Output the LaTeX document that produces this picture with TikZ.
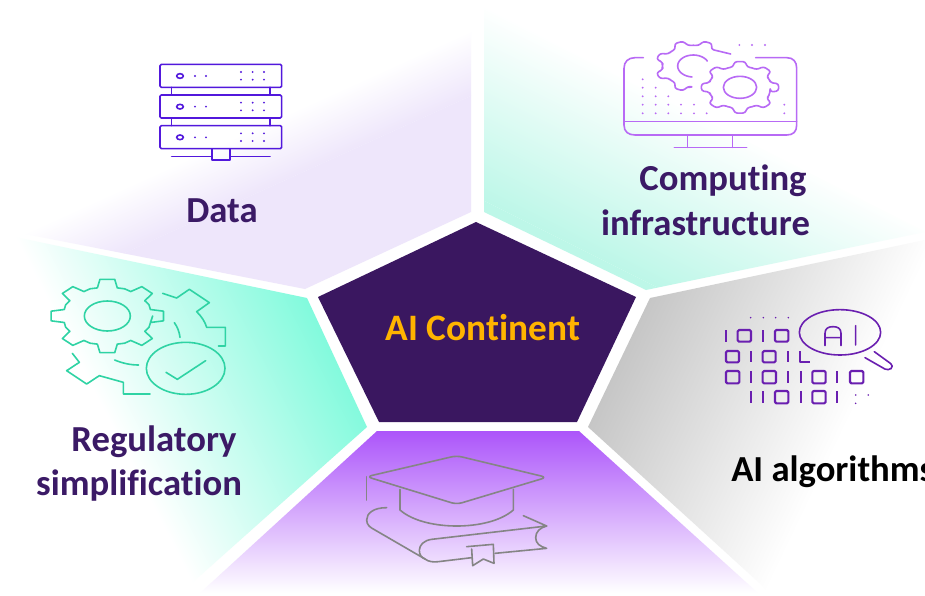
\documentclass[tikz,border=0pt]{standalone}
\usepackage{fontspec}
\setmainfont[Ligatures=NoCommon]{Carlito}
\definecolor{deep}{HTML}{3A1760}
\definecolor{gold}{HTML}{FFB400}
\definecolor{txt}{HTML}{3B1A66}
\definecolor{indigoic}{HTML}{5218DC}
\definecolor{lilacic}{HTML}{B86AF5}
\definecolor{purpic}{HTML}{6A1FB0}
\definecolor{mintic}{HTML}{2FD3A4}
\definecolor{grayic}{HTML}{858585}
\definecolor{lav}{HTML}{EEE6FB}
\definecolor{mintsoft}{HTML}{BDF7E8}
\definecolor{mintstrong}{HTML}{80FADC}
\definecolor{graysoft}{HTML}{C4C4C4}
\definecolor{violettop}{HTML}{AC55FA}
\definecolor{violetmid}{HTML}{DCBFFB}
\tikzset{
 lab/.style={font=\bfseries\fontsize{27.5}{32}\selectfont,text=txt,inner sep=0pt,anchor=base},
 ic/.style={line width=1.2pt,line join=round,line cap=round},
 zoomed/.style={x=.25pt,y=-.25pt},
 dotmark/.style={radius=3.2},
}
% #1 polygon, #2 pivot, #3 angle, #4 band, #5 far colour
\newcommand{\bandwedge}[5]{%
 \begin{scope}
  \clip #1;
  \begin{scope}[transform canvas={shift={#2},rotate=#3}]
   \fill[#5] (-1500,#4) rectangle (1500,1600);
   \shade[top color=white,bottom color=#5] (-1500,0) rectangle (1500,#4);
  \end{scope}
 \end{scope}}
\newcommand{\gearpath}[8]{%
 \foreach \k in {#8}{
  -- ({#1+#3*#5*cos(\k*45+#7-13)},{#2-#4*#5*sin(\k*45+#7-13)})
  -- ({#1+#3*cos(\k*45+#7-#6)},{#2-#4*sin(\k*45+#7-#6)})
  -- ({#1+#3*cos(\k*45+#7+#6)},{#2-#4*sin(\k*45+#7+#6)})
  -- ({#1+#3*#5*cos(\k*45+#7+13)},{#2-#4*#5*sin(\k*45+#7+13)})
  -- ({#1+#3*#5*1.02*cos(\k*45+#7+22.5)},{#2-#4*#5*1.02*sin(\k*45+#7+22.5)})
 }}
\newcommand{\zbox}[4]{\draw[rounded corners=1pt] (#1,#2) rectangle (#3,#4);}
\newcommand{\zbar}[3]{\draw (#1,#2) -- (#1,#3);}
\begin{document}
\begin{tikzpicture}[x=.75pt,y=-.75pt]
\useasboundingbox (0,0) rectangle (925,596);
\fill[white] (0,0) rectangle (925,596);
\begin{scope}
 \clip (925,0) rectangle (0,596);
 % wedges
 \bandwedge{(471,28) -- (471,212) -- (305,289) -- (15,232) -- cycle}{(471,30)}{24.4}{60}{lav}
 \bandwedge{(484,8) -- (484,212) -- (646,290) -- (925,232) -- cycle}{(484,5)}{-26.6}{175}{mintsoft}
 \bandwedge{(650,298) -- (925,240) -- (925,262) -- (767,590) -- (588,427) -- cycle}{(767,590)}{244.4}{240}{graysoft}
 \bandwedge{(15,237) -- (307,298) -- (367,427) -- (192,583) -- cycle}{(192,583)}{117.1}{235}{mintstrong}
 \shade[top color=violettop,middle color=violetmid,bottom color=white] (377,431) -- (579,431) -- (758,593) -- (200,593) -- cycle;
 % centre
 \fill[deep] (476,222) -- (636,297) -- (577,422) -- (379,422) -- (318,297) -- cycle;
 % Data icon
 \begin{scope}[shift={(140,50)},zoomed,indigoic,ic]
  \foreach \t/\b in {43/112,135/204,227/296}{
   \draw[rounded corners=1pt] (60,\t) rectangle (425,\b);
   \draw (120,\t+35) ellipse [x radius=10,y radius=7];
   \fill (165,\t+35) circle[dotmark] (198,\t+35) circle[dotmark];
   \foreach \gx in {303,338,372}{\fill (\gx,\t+23) circle[dotmark] (\gx,\t+46) circle[dotmark];}
  }
  \foreach \t/\b in {112/135,204/227}{\draw (95,\t) -- (95,\b) (390,\t) -- (390,\b);}
  \draw (216,296) rectangle (270,330);
  \draw (95,320) -- (216,320) (270,320) -- (390,320);
 \end{scope}
 % Monitor icon
 \begin{scope}[shift={(610,30)},zoomed,lilacic,ic]
  \draw (100,83) -- (75,83) .. controls (55,83) and (42,95) .. (42,115) -- (42,285) .. controls (42,305) and (55,315) .. (75,315) -- (530,315) .. controls (550,315) and (560,305) .. (560,285) -- (560,115) .. controls (560,95) and (550,83) .. (530,83) -- (437,83);
  \draw (42,275) -- (560,275);
  \draw (233,315) -- (233,352) (368,315) -- (368,352) (193,352) -- (410,352);
  \foreach \px/\py in {98/148,98/173,137/173,98/199,137/199,175/199,98/224,137/224,175/224,213/224,252/224,98/250,137/250,175/250,213/250,252/250,290/250,523/224,523/250,388/45,426/45,465/45}{\fill (\px,\py) circle[dotmark];}
  \draw[rounded corners=2pt] (362,72) \gearpath{250}{108}{115}{77}{.8}{7}{22.5}{1,2,3,4,5} -- (235,172);
  \draw plot[smooth,domain=27:265,samples=24] ({250+47*cos(\x)},{108-33*sin(\x)});
  \draw[rounded corners=2pt] (390+117*.8*.97,172) \gearpath{390}{172}{117}{78}{.8}{8}{0}{0,1,2,3,4,5,6,7} -- cycle;
  \draw (390,172) ellipse [x radius=50,y radius=33];
 \end{scope}
 % AI algorithms icon
 \begin{scope}[shift={(715,305)},zoomed,purpic,ic]
  \draw (375,82) ellipse [x radius=122,y radius=68];
  \draw[rounded corners=3pt] (478,140) -- (537,183) -- (520,198) -- (450,158);
  \draw (330,122) -- (330,85) .. controls (330,70) and (340,65) .. (354,65) .. controls (368,65) and (378,70) .. (378,85) -- (378,122) (330,98) -- (378,98) (422,62) -- (422,120);
  \begin{scope}[line width=1.6pt,line cap=butt]
  \foreach \x in {33,143}{\zbar{\x}{75}{110}}
  \foreach \x in {68,180}{\zbox{\x}{75}{\x+40}{110}}
  \foreach \x in {33,143}{\zbox{\x}{138}{\x+39}{172}}
  \foreach \x in {107,220}{\zbar{\x}{138}{172}}
  \draw (255,138) -- (255,172) -- (285,172);
  \foreach \x in {33,143,292,405}{\zbox{\x}{198}{\x+40}{235}}
  \foreach \x in {107,220,257,367}{\zbar{\x}{198}{235}}
  \foreach \x in {107,143,257,367}{\zbar{\x}{258}{295}}
  \foreach \x in {180,292}{\zbox{\x}{258}{\x+40}{295}}
  \end{scope}
  \foreach \px/\py in {107/38,145/38,182/38,220/38,422/270,460/270,422/295}{\fill (\px,\py) circle[radius=2.6];}
 \end{scope}
 % Regulatory icon
 \begin{scope}[shift={(40,270)},zoomed,mintic,ic]
  \draw (202+136,138) \gearpath{202}{138}{170}{111}{.78}{7.5}{0}{0,1,2,3,4,5,6,7} -- cycle;
  \draw (202,138) ellipse [x radius=69,y radius=45];
  \draw (368,70) -- (410,84) -- (448,58) -- (508,98) -- (470,125) .. controls (485,140) and (495,155) .. (500,172) -- (556,172) -- (556,228) -- (535,228);
  \draw (97,250) -- (118,277) -- (80,302) -- (140,342) -- (178,317) -- (250,337) -- (250,372) -- (330,372);
  \draw (403,158) .. controls (412,170) and (418,185) .. (420,202);
  \draw (224,270) .. controls (248,280) and (272,285) .. (296,285);
  \draw (437,295) ellipse [x radius=118,y radius=78];
  \draw (378,307) -- (412,328) -- (497,272);
 \end{scope}
 % Hat icon
 \begin{scope}[shift={(350,445)},zoomed,grayic,ic]
  \draw[rounded corners=4pt] (320,32) -- (590,97) -- (320,178) -- (50,95) -- cycle;
  \draw (50,95) -- (50,165);
  \draw (150,133) -- (150,195) .. controls (190,230) and (260,243) .. (320,243) .. controls (380,243) and (450,230) .. (490,195) -- (490,133);
  \draw (110,188) .. controls (70,188) and (50,205) .. (50,225) .. controls (50,240) and (60,247) .. (75,255) -- (225,342) .. controls (235,350) and (250,352) .. (265,350) -- (365,338);
  \draw (520,212) -- (590,243) -- (245,283) .. controls (222,286) and (208,300) .. (208,316) .. controls (208,330) and (215,338) .. (225,342);
  \draw (435,325) -- (590,310) .. controls (570,305) and (557,295) .. (557,278) .. controls (557,260) and (570,248) .. (590,243);
  \draw (350,305) -- (430,298) -- (432,355) -- (400,342) -- (368,362) -- (365,312);
 \end{scope}
 % labels
 \node[lab] (data) at (222,222.7) {Data};
 \node[lab] (comp) at (723,190) {Computing};
 \node[lab] (infra) at (705.5,235) {infrastructure};
 \node[lab,text=black,anchor=base west] (algo) at (731,481.7) {AI algorithms};
 \node[lab] (reg) at (154,451.7) {Regulatory};
 \node[lab] (simp) at (139,495) {simplification};
 \node[lab,text=gold,font=\bfseries\fontsize{28}{32}\selectfont] (centre) at (483,340.5) {AI Continent};
\end{scope}
\end{tikzpicture}
\end{document}
